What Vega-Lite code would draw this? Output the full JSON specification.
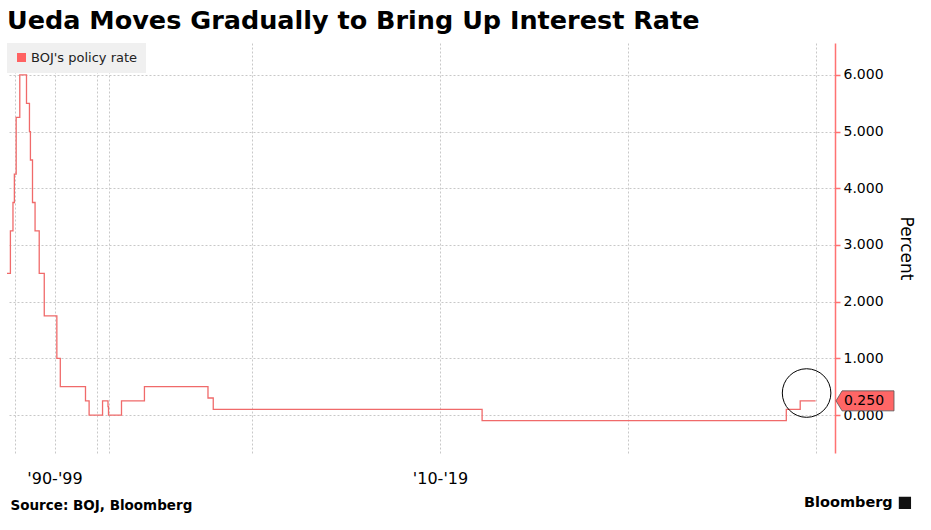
{
  "$schema": "https://vega.github.io/schema/vega-lite/v6.json",
  "width": 828,
  "height": 410,
  "autosize": {"type": "none"},
  "padding": {"left": 7, "top": 43, "right": 96, "bottom": 77},
  "background": "white",
  "title": {
    "text": "Ueda Moves Gradually to Bring Up Interest Rate",
    "anchor": "start",
    "frame": "group",
    "font": "DejaVu Sans",
    "fontSize": 25.5,
    "fontWeight": "bold",
    "color": "black",
    "offset": 9
  },
  "config": {"view": {"stroke": null}},
  "datasets": {
    "rates": [
      {"year": 1988.92, "rate": 2.5},
      {"year": 1989.41, "rate": 3.25},
      {"year": 1989.78, "rate": 3.75},
      {"year": 1989.98, "rate": 4.25},
      {"year": 1990.21, "rate": 5.25},
      {"year": 1990.66, "rate": 6.0},
      {"year": 1991.5, "rate": 5.5},
      {"year": 1991.87, "rate": 5.0},
      {"year": 1991.99, "rate": 4.5},
      {"year": 1992.25, "rate": 3.75},
      {"year": 1992.57, "rate": 3.25},
      {"year": 1993.09, "rate": 2.5},
      {"year": 1993.72, "rate": 1.75},
      {"year": 1995.28, "rate": 1.0},
      {"year": 1995.69, "rate": 0.5},
      {"year": 1998.69, "rate": 0.25},
      {"year": 1999.12, "rate": 0.0},
      {"year": 2000.61, "rate": 0.25},
      {"year": 2001.16, "rate": 0.15},
      {"year": 2001.21, "rate": 0.0},
      {"year": 2006.53, "rate": 0.25},
      {"year": 2007.14, "rate": 0.5},
      {"year": 2008.83, "rate": 0.3},
      {"year": 2008.97, "rate": 0.1},
      {"year": 2016.12, "rate": -0.1},
      {"year": 2024.21, "rate": 0.1},
      {"year": 2024.58, "rate": 0.25},
      {"year": 2024.99, "rate": 0.25}
    ],
    "circle": [{"year": 2024.75, "rate": 0.388}],
    "lastvalue": [{"year": 2025.5, "rate": 0.25, "label": "0.250"}],
    "brand": [{"year": 2027.02, "rate": -1.55, "label": "Bloomberg"}],
    "brandicon": [{"year": 2027.34, "rate": -1.55}]
  },
  "layer": [
    {
      "data": {"name": "rates"},
      "mark": {"type": "line", "interpolate": "step-after", "strokeWidth": 1.3},
      "encoding": {
        "x": {
          "field": "year",
          "type": "quantitative",
          "scale": {
            "nice": false,
            "zero": false,
            "domain": [1988.92, 1990, 1995, 2000, 2001.21, 2005, 2006.53, 2025, 2025.5],
            "range": [0, 7.5, 47.5, 89.5, 101.5, 101.8, 114.5, 809, 828]
          },
          "axis": {
            "values": [1990, 1995, 2000, 2005, 2010, 2015, 2020, 2025],
            "labelExpr": "datum.value === 1995 ? \"'90-'99\" : (datum.value === 2015 ? \"'10-'19\" : '')",
            "grid": true,
            "gridColor": "#c8c8c8",
            "gridDash": [2, 2],
            "ticks": false,
            "domain": false,
            "labelFont": "DejaVu Sans",
            "labelFontSize": 16,
            "labelColor": "black",
            "labelPadding": 17,
            "labelFlush": false,
            "labelOverlap": false,
            "title": "Source: BOJ, Bloomberg",
            "titleFont": "DejaVu Sans",
            "titleFontSize": 13.5,
            "titleFontWeight": "bold",
            "titleColor": "black",
            "titleAlign": "left",
            "titleAnchor": "start",
            "titleX": 3,
            "titleY": 52,
            "titleBaseline": "middle"
          }
        },
        "y": {
          "field": "rate",
          "type": "quantitative",
          "scale": {"domain": [-0.67, 6.564], "nice": false, "zero": false},
          "axis": {
            "orient": "right",
            "values": [0, 1, 2, 3, 4, 5, 6],
            "format": ".3f",
            "grid": true,
            "gridColor": "#c8c8c8",
            "gridDash": [2, 2],
            "domainColor": "#ff7272",
            "domainWidth": 1.5,
            "tickColor": "#ff7272",
            "tickSize": 5,
            "tickWidth": 1.5,
            "labelFont": "DejaVu Sans",
            "labelFontSize": 14,
            "labelColor": "black",
            "labelPadding": 3,
            "labelOverlap": false,
            "labelFlush": false,
            "title": "Percent",
            "titleFont": "DejaVu Sans",
            "titleFontSize": 17,
            "titleFontWeight": "normal",
            "titleColor": "black",
            "titlePadding": 13
          }
        },
        "color": {
          "datum": "BOJ's policy rate",
          "type": "nominal",
          "scale": {"range": ["#f06a6a"]},
          "legend": {
            "orient": "top-left",
            "offset": 0,
            "title": null,
            "padding": 8,
            "fillColor": "#f0f0f0",
            "labelFont": "DejaVu Sans",
            "labelFontSize": 13,
            "labelColor": "#222222",
            "symbolType": "square",
            "symbolSize": 81,
            "labelOffset": 3,
            "encode": {
              "symbols": {
                "update": {
                  "fill": {"value": "#ff6262"},
                  "stroke": {"value": "#ff6262"},
                  "strokeWidth": {"value": 0}
                }
              }
            }
          }
        }
      }
    },
    {
      "data": {"name": "circle"},
      "mark": {"type": "point", "shape": "circle", "filled": false, "size": 2360, "color": "black", "strokeWidth": 1, "opacity": 1},
      "encoding": {
        "x": {"field": "year", "type": "quantitative"},
        "y": {"field": "rate", "type": "quantitative"}
      }
    },
    {
      "data": {"name": "lastvalue"},
      "mark": {
        "type": "point",
        "shape": "M -1 0 L -0.79 -0.345 L 1 -0.345 L 1 0.345 L -0.79 0.345 Z",
        "filled": true,
        "fill": "#ff6666",
        "stroke": "#555555",
        "strokeWidth": 0.8,
        "size": 3364,
        "opacity": 1,
        "xOffset": 30
      },
      "encoding": {
        "x": {"field": "year", "type": "quantitative"},
        "y": {"field": "rate", "type": "quantitative"}
      }
    },
    {
      "data": {"name": "lastvalue"},
      "mark": {"type": "text", "dx": 29, "align": "center", "baseline": "middle", "font": "DejaVu Sans", "fontSize": 14, "color": "black"},
      "encoding": {
        "x": {"field": "year", "type": "quantitative"},
        "y": {"field": "rate", "type": "quantitative"},
        "text": {"field": "label"}
      }
    },
    {
      "data": {"name": "brand"},
      "mark": {"type": "text", "align": "right", "baseline": "middle", "font": "DejaVu Sans", "fontSize": 14.5, "fontWeight": "bold", "color": "black"},
      "encoding": {
        "x": {"field": "year", "type": "quantitative"},
        "y": {"field": "rate", "type": "quantitative"},
        "text": {"field": "label"}
      }
    },
    {
      "data": {"name": "brandicon"},
      "mark": {"type": "point", "shape": "square", "filled": true, "size": 150, "color": "#111111", "opacity": 1},
      "encoding": {
        "x": {"field": "year", "type": "quantitative"},
        "y": {"field": "rate", "type": "quantitative"}
      }
    }
  ]
}
